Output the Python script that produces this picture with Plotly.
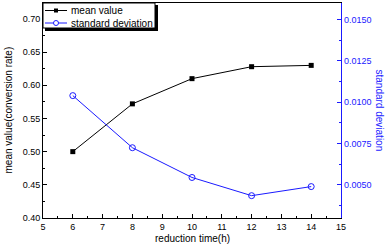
import plotly.graph_objects as go

time_h = [6, 8, 10, 12, 14]
mean_value = [0.500, 0.572, 0.610, 0.628, 0.630]
std_dev = [0.01040, 0.00725, 0.00545, 0.00435, 0.00490]
series_names = ["mean value", "standard deviation"]

FONT = "Liberation Sans, Arial, sans-serif"
BLUE = "#1a1aff"
W, H = 387, 245
L, R, T, B = 43, 46, 3, 27
PW, PH = W - L - R, H - T - B


def px(x):
    return (x - L) / PW


def py(y):
    return (H - B - y) / PH


fig = go.Figure()
fig.add_trace(go.Scatter(x=time_h, y=mean_value, name=series_names[0], mode="lines+markers",
                         line=dict(color="black", width=1),
                         marker=dict(symbol="square", size=5, color="black")))
fig.add_trace(go.Scatter(x=time_h, y=std_dev, name=series_names[1], mode="lines+markers",
                         yaxis="y2", line=dict(color=BLUE, width=1),
                         marker=dict(symbol="circle-open", size=6, color=BLUE, line=dict(width=1))))

# custom legend (box with shadow, short sample lines)
shapes = [
    dict(type="rect", xref="paper", yref="paper", x0=px(45), x1=px(158), y0=py(5), y1=py(31),
         fillcolor="black", line=dict(width=0), layer="above"),
    dict(type="rect", xref="paper", yref="paper", x0=px(43), x1=px(155), y0=py(3), y1=py(28),
         fillcolor="white", line=dict(color="black", width=1), layer="above"),
]
rows = [(10.5, "black"), (23, BLUE)]
for (yy, col) in rows:
    shapes.append(dict(type="line", xref="paper", yref="paper", x0=px(45), x1=px(67), y0=py(yy), y1=py(yy),
                       line=dict(color=col, width=1), layer="above"))
shapes.append(dict(type="rect", xref="paper", yref="paper", x0=px(54), x1=px(58), y0=py(8.5), y1=py(12.5),
                   fillcolor="black", line=dict(width=0), layer="above"))
shapes.append(dict(type="circle", xref="paper", yref="paper", x0=px(53.5), x1=px(58.5), y0=py(20.5), y1=py(25.5),
                   fillcolor="white", line=dict(color=BLUE, width=1), layer="above"))

annotations = [
    dict(text=series_names[0], x=px(69), y=py(rows[0][0]), xref="paper", yref="paper",
         xanchor="left", yanchor="middle", showarrow=False, font=dict(size=10)),
    dict(text=series_names[1], x=px(69), y=py(rows[1][0]), xref="paper", yref="paper",
         xanchor="left", yanchor="middle", showarrow=False, font=dict(size=10)),
    dict(text="reduction time(h)", x=0.5, y=0, xref="paper", yref="paper",
         xanchor="center", yanchor="top", yshift=-13, showarrow=False, font=dict(size=10)),
    dict(text="mean value(conversion rate)", x=0, y=0.5, xref="paper", yref="paper",
         xanchor="center", yanchor="middle", xshift=-35, textangle=-90, showarrow=False, font=dict(size=10)),
    dict(text="standard deviation", x=1, y=0.5, xref="paper", yref="paper",
         xanchor="center", yanchor="middle", xshift=38, textangle=90, showarrow=False,
         font=dict(size=10, color=BLUE)),
]

fig.update_layout(
    width=W, height=H,
    margin=dict(l=L, r=R, t=T, b=B),
    paper_bgcolor="white", plot_bgcolor="white",
    font=dict(family=FONT, size=9, color="black"),
    showlegend=False,
    xaxis=dict(range=[5, 15], dtick=1, showgrid=False, zeroline=False,
               showline=True, linecolor="black", linewidth=1, mirror=True,
               ticks="inside", ticklen=4, tickcolor="black",
               minor=dict(ticks="inside", ticklen=2, dtick=0.5, tickcolor="black")),
    yaxis=dict(range=[0.40, 0.724], tickvals=[0.40, 0.45, 0.50, 0.55, 0.60, 0.65, 0.70],
               tickformat=".2f", showgrid=False, zeroline=False,
               showline=True, linecolor="black", linewidth=1,
               ticks="inside", ticklen=4, tickcolor="black",
               minor=dict(ticks="inside", ticklen=2, tickvals=[0.425, 0.475, 0.525, 0.575, 0.625, 0.675], tickcolor="black")),
    yaxis2=dict(range=[0.003, 0.016], overlaying="y", side="right",
                tickvals=[0.0050, 0.0075, 0.0100, 0.0125, 0.0150], tickformat=".4f",
                showgrid=False, zeroline=False, showline=True, linecolor=BLUE, linewidth=1.2,
                ticks="inside", ticklen=4, tickcolor=BLUE, tickfont=dict(color=BLUE),
                minor=dict(ticks="inside", ticklen=2, tickvals=[0.00375, 0.00625, 0.00875, 0.01125, 0.01375], tickcolor=BLUE)),
    shapes=shapes,
    annotations=annotations,
)
fig.write_html("out.html", config={"displayModeBar": False},
               post_script="document.body.style.margin='0px';document.body.style.overflow='hidden';")
